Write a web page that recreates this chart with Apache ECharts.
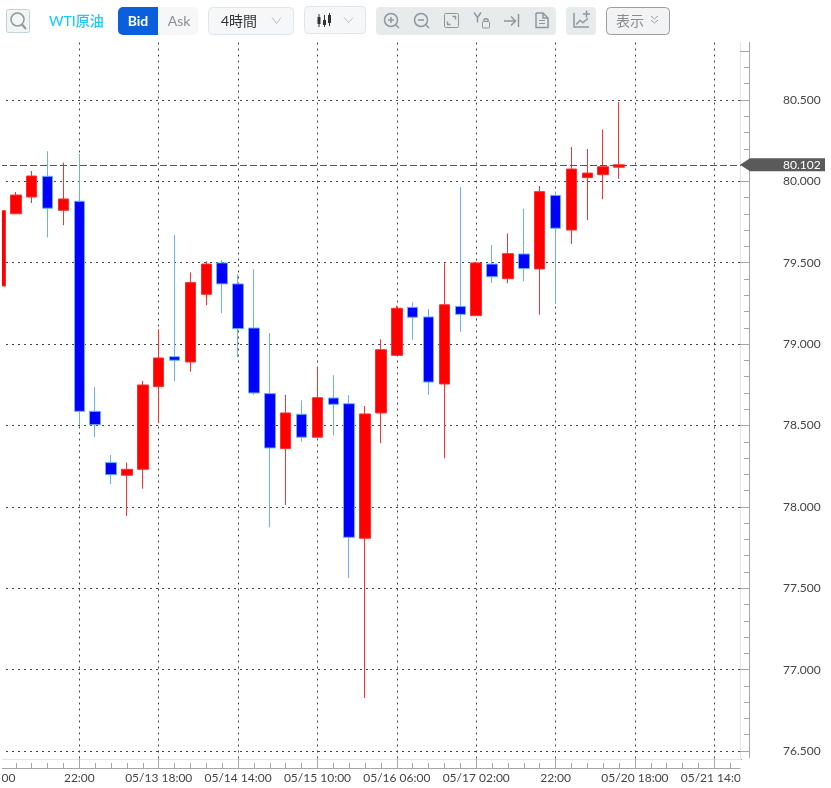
<!DOCTYPE html>
<html>
<head>
<meta charset="utf-8">
<title>WTI原油</title>
<style>
  html, body { margin: 0; padding: 0; background: #fff; }
  #main { width: 831px; height: 788px; }
</style>
<script src="https://cdn.jsdelivr.net/npm/echarts@6/dist/echarts.min.js"></script>
</head>
<body>
<div id="main"></div>
<script>
// time labels, one every 5 candles
var timeLabels = ['02:00', '22:00', '05/13 18:00', '05/14 14:00', '05/15 10:00', '05/16 06:00', '05/17 02:00', '22:00', '05/20 18:00', '05/21 14:00'];
var lastPrice = 80.102;

// 4h candles
var opens = [79.357, 79.801, 79.904, 80.031, 79.822, 79.878, 78.587, 78.272, 78.194, 78.231,
  78.739, 78.923, 78.89, 79.306, 79.499, 79.37, 79.099, 78.696, 78.358, 78.569,
  78.428, 78.669, 78.634, 77.807, 78.577, 78.931, 79.226, 79.167, 78.755, 79.232,
  79.175, 79.492, 79.402, 79.554, 79.462, 79.914, 79.701, 80.023, 80.041, 80.087];
var closes = [79.82, 79.916, 80.033, 79.835, 79.892, 78.587, 78.505, 78.198, 78.231, 78.749,
  78.915, 78.901, 79.378, 79.492, 79.37, 79.095, 78.7, 78.362, 78.577, 78.428,
  78.671, 78.63, 77.813, 78.571, 78.966, 79.22, 79.165, 78.767, 79.242, 79.183,
  79.499, 79.414, 79.556, 79.464, 79.937, 79.712, 80.076, 80.051, 80.09, 80.102];
var lows = [79.357, 79.801, 79.867, 79.656, 79.73, 78.503, 78.428, 78.139, 77.944, 78.112,
  78.514, 78.772, 78.831, 79.239, 79.191, 78.919, 78.689, 77.875, 78.012, 78.401,
  78.428, 78.44, 77.563, 76.826, 78.391, 78.927, 79.027, 78.689, 78.299, 79.076,
  79.175, 79.376, 79.374, 79.386, 79.181, 79.247, 79.615, 79.763, 79.89, 80.016];
var highs = [79.82, 79.935, 80.064, 80.185, 80.115, 80.168, 78.737, 78.319, 78.272, 78.774,
  79.091, 79.671, 79.441, 79.509, 79.517, 79.429, 79.46, 79.068, 78.689, 78.655,
  78.858, 78.809, 78.686, 78.62, 79.03, 79.236, 79.257, 79.216, 79.497, 79.965,
  79.499, 79.609, 79.68, 79.832, 79.972, 79.937, 80.211, 80.199, 80.318, 80.488];

var candles = opens.map(function (o, i) {
  return [i, o, closes[i], lows[i], highs[i]];
});

var FONT = 'Lato, "Noto Sans CJK JP", sans-serif';
var AXIS_GRAY = '#a6a6a6';
var LIGHT_GRAY = '#e4e4e4';
var DOT_GRAY = '#444';
var ICON = '#8b999e';

var chart = echarts.init(document.getElementById('main'));

// toolbar helpers
function box(x, y, w, h, fill, stroke, r) {
  return { type: 'rect', shape: { x: x, y: y, width: w, height: h, r: r === undefined ? 4 : r }, style: { fill: fill, stroke: stroke || null, lineWidth: 1 } };
}
function label(text, x, y, size, color, weight, align) {
  return { type: 'text', x: x, y: y, style: { text: text, fill: color, font: (weight || 'normal') + ' ' + size + 'px ' + FONT, align: align || 'left', verticalAlign: 'middle' } };
}
function line(points, color, width) {
  return { type: 'polyline', shape: { points: points }, style: { stroke: color || ICON, lineWidth: width || 1.5, fill: null } };
}
function circle(x, y, r) {
  return { type: 'circle', shape: { cx: x, cy: y, r: r }, style: { stroke: ICON, lineWidth: 1.5, fill: null } };
}
function chevron(x, y, w, h, color) {
  return line([[x - w, y - h], [x, y + h], [x + w, y - h]], color || '#b7c0c4', 1);
}
function stick(x, top, bTop, bBot, bot) {
  return [line([[x, top], [x, bot]], '#333', 1), box(x - 1.5, bTop, 3, bBot - bTop, '#333', null, 0)];
}

function toolbar() {
  return [].concat(
    [box(6.5, 9.5, 23, 23, '#f3f5f5', '#c4d2d8', 2), circle(17.5, 19.5, 6.5), line([[22, 24.5], [26, 29]], ICON, 2)],
    [label('WTI原油', 49, 21, 14, '#1cc9ff', '500')],
    [box(118, 7, 40, 28, '#0a5fdc', null, [5, 0, 0, 5]), box(158, 7, 40, 28, '#f6f7f8', null, [0, 5, 5, 0]),
      label('Bid', 138, 21, 14, '#fff', 'bold', 'center'), label('Ask', 179, 21, 14, '#8b8f92', 'normal', 'center')],
    [box(208.5, 7.5, 85, 27, '#f6f7f8', '#dfe6ea'), label('4時間', 221, 21, 14, '#333'), chevron(276.5, 20.5, 4.5, 3)],
    [box(304.5, 6.5, 61, 27, '#f6f7f8', '#dfe6ea')],
    stick(319, 14, 17, 24, 27), stick(324.5, 15, 20, 25, 27), stick(329.5, 13, 15, 23, 26),
    [chevron(348.5, 20, 4.5, 2.5)],
    [box(376, 7, 180, 28, '#e8ebec', null), box(566, 7, 30, 28, '#e8ebec', null)],
    // zoom in, zoom out
    [circle(391, 20, 6.5), line([[396, 25], [399, 28]]), line([[388, 20], [394, 20]]), line([[391, 17], [391, 23]])],
    [circle(421, 20, 6.5), line([[426, 25], [429, 28]]), line([[418, 20], [424, 20]])],
    // fit
    [box(444.5, 13.5, 14, 14, null, ICON, 1), line([[447.5, 21.5], [447.5, 24.5], [450.5, 24.5]]), line([[452.5, 16.5], [455.5, 16.5], [455.5, 19.5]])],
    // Y lock
    [line([[474, 12.5], [477.5, 17.5], [481, 12.5]]), line([[477.5, 17.5], [477.5, 22.5]]),
      box(482.5, 21.5, 7, 6.5, null, ICON, 1), line([[484, 21.5], [484, 19.5], [486, 18.5], [488, 19.5], [488, 21.5]])],
    // jump to latest
    [line([[504, 21], [515, 21]]), line([[511, 16.5], [515.5, 21], [511, 25.5]]), line([[518.5, 14], [518.5, 27]])],
    // document
    [line([[536, 13], [543, 13], [548, 18], [548, 27.5], [536, 27.5], [536, 13]]), line([[543, 13], [543, 18], [548, 18]]), line([[539, 20.5], [545, 20.5]], ICON, 1), line([[539, 23.5], [545, 23.5]], ICON, 1)],
    // add indicator
    [line([[574, 13], [574, 27], [589, 27]]), line([[576, 24.5], [580, 20.5], [583, 22.5], [588, 18.5]]), line([[583, 14], [590, 14]]), line([[586.5, 10.5], [586.5, 17.5]])],
    [box(606.5, 7.5, 63, 27, '#f2f3f4', '#9c9c9c'), label('表示', 616, 21, 14, '#8a8a8a'), chevron(654.5, 17.5, 3.5, 1.5, '#a0a0a0'), chevron(654.5, 21.5, 3.5, 1.5, '#a0a0a0')]
  );
}

function hiddenAxis(gridIndex, min, max) {
  return { type: 'value', gridIndex: gridIndex, min: min, max: max, show: false };
}

var option = {
  animation: false,
  backgroundColor: '#fff',
  grid: [
    { left: 0, right: 90, top: 42.5, bottom: 20, outerBoundsMode: 'none' },       // candles, time axis
    { left: 0, right: 82, top: 51.175, bottom: 37, outerBoundsMode: 'none' },     // price ticks, from 80.8 to 76.5
    { left: 0, right: 90.5, top: 42.5, bottom: 29, outerBoundsMode: 'none' },     // light frame
    { left: 0, right: 81.5, top: 42.5, bottom: 30.5, outerBoundsMode: 'none' }    // price rail
  ],
  xAxis: [
    {
      type: 'value', gridIndex: 0, min: 0, max: 46.68, interval: 5,
      axisLine: { show: true, onZero: false, lineStyle: { color: AXIS_GRAY } },
      axisTick: { show: true, inside: true, length: 9, lineStyle: { color: AXIS_GRAY } },
      minorTick: { show: true, splitNumber: 5, length: 5, lineStyle: { color: AXIS_GRAY } },
      minorSplitLine: { show: false },
      splitLine: { show: true, showMaxLine: false, lineStyle: { color: DOT_GRAY, type: [2, 4] } },
      axisLabel: {
        color: '#444', fontSize: 12, fontFamily: FONT, margin: 4, showMinLabel: true, showMaxLabel: false,
        formatter: function (value) { return timeLabels[value / 5] || ''; }
      }
    },
    hiddenAxis(1, 0, 1),
    {
      type: 'value', gridIndex: 2, min: 0, max: 1,
      axisLine: { show: true, onZero: false, lineStyle: { color: LIGHT_GRAY } },
      axisTick: { show: false }, axisLabel: { show: false }, splitLine: { show: false }
    },
    hiddenAxis(3, 0, 1)
  ],
  yAxis: [
    hiddenAxis(0, 76.3955, 80.8533),
    {
      type: 'value', gridIndex: 1, position: 'right', min: 76.5, max: 80.8, interval: 0.5,
      axisLine: { show: false, onZero: false },
      axisTick: { show: true, inside: true, length: 9, lineStyle: { color: AXIS_GRAY } },
      minorTick: { show: true, splitNumber: 5, length: 5, lineStyle: { color: AXIS_GRAY } },
      splitLine: { show: true, showMaxLine: false, lineStyle: { color: DOT_GRAY, type: [2, 4] } },
      axisLabel: {
        color: '#444', fontSize: 12, fontFamily: FONT, margin: 34, showMaxLabel: false,
        formatter: function (value) { return value.toFixed(3); }
      }
    },
    {
      type: 'value', gridIndex: 2, position: 'right', min: 0, max: 1,
      axisLine: { show: true, onZero: false, lineStyle: { color: LIGHT_GRAY } },
      axisTick: { show: false }, axisLabel: { show: false }, splitLine: { show: false }
    },
    {
      type: 'value', gridIndex: 3, position: 'right', min: 0, max: 1,
      axisLine: { show: true, onZero: false, lineStyle: { color: AXIS_GRAY } },
      axisTick: { show: false }, axisLabel: { show: false }, splitLine: { show: false }
    }
  ],
  series: [{
    type: 'candlestick',
    xAxisIndex: 0,
    yAxisIndex: 0,
    data: candles,
    barWidth: 11,
    itemStyle: {
      color: '#ff0000',
      color0: '#0000ff',
      borderColor: '#ff3030',
      borderColor0: '#66b2ff',
      borderWidth: 1
    },
    markLine: {
      silent: true,
      symbol: 'none',
      label: { show: false },
      lineStyle: { color: '#555', type: [7, 3], width: 1 },
      data: [{ yAxis: lastPrice }]
    }
  }]
};

chart.setOption(option);

// price tag follows the y scale
var tagY = chart.convertToPixel({ yAxisIndex: 0 }, lastPrice);
chart.setOption({
  graphic: toolbar().concat([
    // the plot starts 2px in, the time axis is cut at the frame
    { type: 'rect', z: 50, shape: { x: 0, y: 42, width: 2, height: 746 }, style: { fill: '#fff' } },
    { type: 'rect', z: 50, shape: { x: 740.5, y: 760, width: 20, height: 28 }, style: { fill: '#fff' } },
    { type: 'polygon', z: 60, shape: { points: [[740, tagY], [750, tagY - 6.5], [825, tagY - 6.5], [825, tagY + 6.5], [750, tagY + 6.5]] }, style: { fill: '#5a5a5a' } },
    { type: 'text', z: 61, x: 783, y: tagY, style: { text: lastPrice.toFixed(3), fill: '#fff', font: '12px ' + FONT, verticalAlign: 'middle' } }
  ])
});
</script>
</body>
</html>
